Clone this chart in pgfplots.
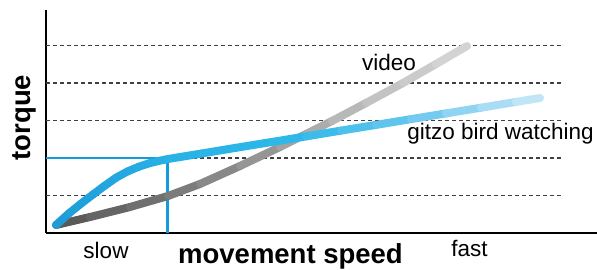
\documentclass[border=0pt]{standalone}
\usepackage{pgfplots}
\pgfplotsset{compat=1.18}
\usepackage{fontspec}
\setmainfont{Liberation Sans}
\pgfplotsset{
  colormap={grayfade}{rgb255=(85,85,85) rgb255=(115,115,115) rgb255=(150,150,150) rgb255=(190,190,190) rgb255=(215,215,215)},
  colormap={bluefade}{rgb255=(30,155,215) rgb255=(40,178,230) rgb255=(45,185,233) rgb255=(110,200,238) rgb255=(200,232,248)},
}
\definecolor{guideblue}{RGB}{20,155,220}
\newcommand{\lbl}{\fontsize{22.5}{26}\selectfont}
\newcommand{\blbl}{\fontsize{27.5}{31}\selectfont\bfseries}
\pgfplotstableread{
x y m
10 8 0
44 16 0.083
84 26 0.18
122 37 0.272
154 49 0.35
194 67 0.448
234 86 0.545
260 99 0.608
286 112 0.672
320 130 0.754
357 150 0.844
390 169 0.925
421 187 1
}\videodata
\pgfplotstableread{
x y m
10 8 0
22.8 19.5 0.026
35.2 29.5 0.052
47.3 38.8 0.077
59 47.5 0.101
70.4 55.5 0.125
81.4 61.5 0.148
92.1 66 0.170
102.4 69.5 0.191
112.4 72 0.212
122 74 0.231
155 79.4 0.300
190 85.2 0.372
225 90.9 0.444
260 96.6 0.517
295 102.4 0.589
330 108.1 0.661
365 113.9 0.733
400 119.6 0.806
435 125.3 0.878
470 131.1 0.950
494 135 1
}\gitzodata
\begin{document}
\begin{tikzpicture}
\begin{axis}[
  at={(46pt,36pt)}, anchor=south west,
  scale only axis, width=551pt, height=223pt,
  xmin=0, xmax=551, ymin=0, ymax=223,
  axis lines*=left,
  axis line style={line width=1.8pt, black},
  xtick=\empty, ytick=\empty,
  clip=false,
  point meta min=0, point meta max=1,
]
% dashed grid
\foreach \yy in {37.5,75,112.5,150,187.5}{
  \edef\tmp{\noexpand\addplot[dash pattern=on 4pt off 3pt, line width=1.2pt, color=black!75] coordinates {(0,\yy) (516,\yy)};}
  \tmp
}
% guide lines
\addplot[guideblue, line width=2.5pt] coordinates {(0,75) (121.5,75)};
\addplot[guideblue, line width=2.5pt] coordinates {(121.5,75) (121.5,0)};
% curves
\addplot[mesh, colormap name=grayfade, line width=8pt, line cap=round, point meta=explicit] table[x=x, y=y, meta=m] {\videodata};
\addplot[mesh, colormap name=bluefade, line width=8pt, line cap=round, point meta=explicit] table[x=x, y=y, meta=m] {\gitzodata};
% labels
\node[anchor=base, inner sep=0pt] at (axis cs:343,163) {\lbl video};
\node[anchor=base, inner sep=0pt] at (axis cs:454.5,94) {\lbl gitzo bird watching};
\node[anchor=base, inner sep=0pt] at (axis cs:60,-25) {\lbl slow};
\node[anchor=base, inner sep=0pt] at (axis cs:423.5,-23) {\lbl fast};
\node[anchor=base, inner sep=0pt] at (axis cs:244.5,-30) {\blbl movement speed};
\node[anchor=base, inner sep=0pt, rotate=90] at (axis cs:-16,115.5) {\blbl torque};
\end{axis}
\pgfresetboundingbox
\path[use as bounding box] (0,0) rectangle (597pt,269pt);
\end{tikzpicture}
\end{document}
